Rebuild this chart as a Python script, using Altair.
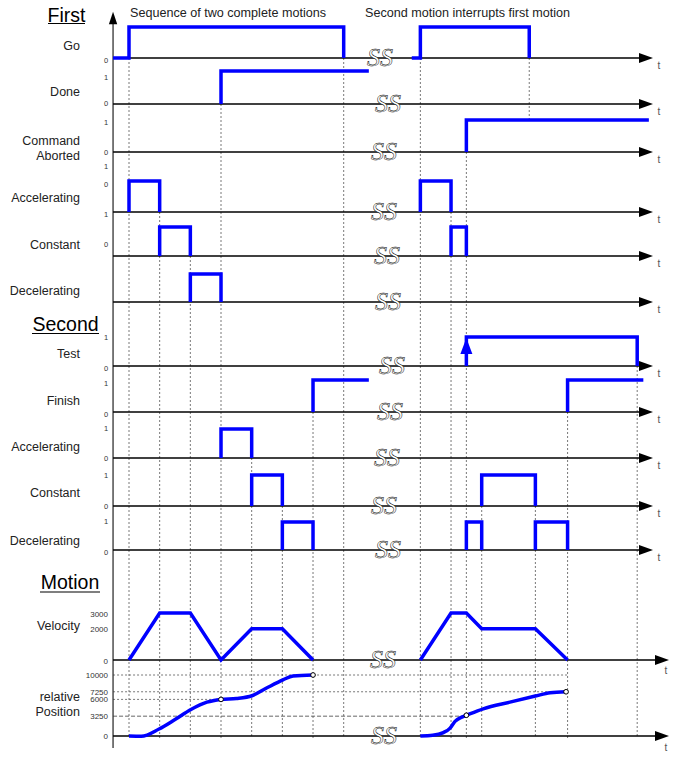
import altair as alt
import pandas as pd

# ------------------------------------------------------------------ data
# Event times in ms.  Each step signal: (start, [toggle times], end), starting at level 0
GO = [(-52, [0, 700], 700), (922, [950, 1305], 1305)]
DONE = [(300, [300], 782)]
ABORTED = [(1100, [1100], 1695)]
ACC_1 = [(0, [0, 100], 100), (950, [950, 1050], 1050)]
CON_1 = [(100, [100, 200], 200), (1050, [1050, 1100], 1100)]
DEC_1 = [(200, [200, 300], 300)]
TEST = [(1100, [1100, 1657], 1657)]
FINISH = [(600, [600], 782), (1430, [1430], 1677)]
ACC_2 = [(300, [300, 400], 400)]
CON_2 = [(400, [400, 500], 500), (1150, [1150, 1325], 1325)]
DEC_2 = [(500, [500, 600], 600), (1100, [1100, 1150], 1150), (1325, [1325, 1430], 1430)]

vel_t1 = [0, 100, 200, 300, 400, 500, 600]
vel_v1 = [0, 3000, 3000, 0, 2000, 2000, 0]
vel_t2 = [950, 1050, 1100, 1150, 1325, 1430]
vel_v2 = [0, 3000, 3000, 2000, 2000, 0]

pos_t1 = [0, 40, 98, 150, 202, 254, 300, 350, 401, 450, 502, 535, 600]
pos_v1 = [0, -40, 1150, 2700, 4350, 5550, 6000, 6150, 6600, 7900, 9200, 9850, 10000]
pos_t2 = [950, 990, 1025, 1047, 1063, 1085, 1100, 1155, 1242, 1325, 1373, 1425]
pos_v2 = [0, 110, 560, 1300, 2400, 3100, 3400, 4450, 5550, 6550, 7100, 7250]
pos_marks_t = [300, 600, 1100, 1425]
pos_marks_v = [6000, 10000, 3400, 7250]

pos_ref_levels = [10000, 7250, 6000, 3250]
pos_ref_ends = [1430, 1430, 300, 1100]
vel_tick_labels = ["3000", "2000", "0"]
vel_tick_values = [3000, 2000, 0]
pos_tick_labels = ["10000", "7250", "6000", "3250", "0"]
pos_tick_values = [10000, 7250, 6000, 3250, 0]

# dotted guide lines: (time, row where it starts)
guide_times = [0, 100, 200, 300, 400, 500, 600, 700, 950, 1050, 1100, 1150, 1325, 1430, 1657]
guide_rows = ["go", "acc1", "con1", "done", "acc2", "con2", "finish", "go",
              "go", "acc1", "aborted", "con2", "con2", "finish", "test"]

row_names = ["Go", "Done", "Command", "Aborted", "Accelerating", "Constant", "Decelerating",
             "Test", "Finish", "Accelerating", "Constant", "Decelerating",
             "Velocity", "relative", "Position"]
level_labels = ["0", "1", "0", "1", "0", "1", "0", "1", "0",
                "1", "0", "1", "0", "1", "0", "1", "0", "1", "0"]
section_titles = ["First", "Second", "Motion"]
captions = ["Sequence of two complete motions", "Second motion interrupts first motion"]

# ------------------------------------------------------------------ layout
W, H = 678, 757
X0_PX, PX_PER_MS = 129.0, 0.3067
AXIS_T0 = -52
ROWS = {  # baseline px, level-1 px
    "go": (58, 27), "done": (104, 71), "aborted": (152, 120), "acc1": (212, 181),
    "con1": (256, 227), "dec1": (302, 274), "test": (366, 337), "finish": (412, 380),
    "acc2": (458, 429), "con2": (506, 475), "dec2": (550, 522),
}
VEL_BASE, VEL_K = 660, 47 / 3000
POS_BASE, POS_K = 736, 61 / 10000
SIG_ORDER = ["go", "done", "aborted", "acc1", "con1", "dec1", "test", "finish", "acc2", "con2", "dec2"]
SS_PX = [380, 388, 384, 384, 387, 388, 392, 390, 387, 384, 388, 383, 384]
ROW_LABEL_Y = [46, 92, 141, 156, 198, 245, 291, 354, 401, 447, 493, 541, 626, 697, 712]
LEVEL_LABEL_Y = [61, 78, 104, 123, 153, 167, 185, 215, 245, 338, 369, 384, 415, 429, 459, 476, 507, 522, 553]
BLUE = "#0000FF"
FONT = "Liberation Sans"


def ms(px):
    return (px - X0_PX) / PX_PER_MS


def ylev(row, lev):
    b, h = ROWS[row]
    return b - lev * (b - h)


xs = alt.Scale(domain=[ms(0), ms(W)], nice=False, zero=False)
ys = alt.Scale(domain=[0, H], nice=False, zero=False, reverse=True)


def X(f="t"):
    return alt.X(f"{f}:Q", scale=xs, axis=None)


def Y(f="y"):
    return alt.Y(f"{f}:Q", scale=ys, axis=None)


# ---- step signals
sig_rows = [("go", GO), ("done", DONE), ("aborted", ABORTED), ("acc1", ACC_1), ("con1", CON_1),
            ("dec1", DEC_1), ("test", TEST), ("finish", FINISH), ("acc2", ACC_2), ("con2", CON_2),
            ("dec2", DEC_2)]
recs = []
for row, segs in sig_rows:
    for k, (start, edges, end) in enumerate(segs):
        seg = f"{row}{k}"
        lev = 0
        pts = [(start, lev)]
        for e in edges:
            pts.append((e, lev))
            lev = 1 - lev
            pts.append((e, lev))
        pts.append((end, lev))
        for i, (t, l) in enumerate(pts):
            recs.append({"seg": seg, "i": i, "t": t, "y": ylev(row, l)})
sig_df = pd.DataFrame(recs)

# motion curves
mrecs = []
for i, (t, v) in enumerate(zip(vel_t1, vel_v1)):
    mrecs.append({"seg": "v1", "i": i, "t": t, "y": VEL_BASE - v * VEL_K})
for i, (t, v) in enumerate(zip(vel_t2, vel_v2)):
    mrecs.append({"seg": "v2", "i": i, "t": t, "y": VEL_BASE - v * VEL_K})
vel_df = pd.DataFrame(mrecs)
prec = []
for i, (t, v) in enumerate(zip(pos_t1, pos_v1)):
    prec.append({"seg": "p1", "i": i, "t": t, "y": POS_BASE - v * POS_K})
for i, (t, v) in enumerate(zip(pos_t2, pos_v2)):
    prec.append({"seg": "p2", "i": i, "t": t, "y": POS_BASE - v * POS_K})
pos_df = pd.DataFrame(prec)
marks_df = pd.DataFrame({"t": pos_marks_t, "y": [POS_BASE - v * POS_K for v in pos_marks_v]})

# baselines
ARROW_SIG_PX, ARROW_MOT_PX = 646, 662
base_recs = [{"t": AXIS_T0, "t2": ms(ARROW_SIG_PX - 6), "y": ROWS[r][0]} for r in SIG_ORDER]
base_recs += [{"t": AXIS_T0, "t2": ms(ARROW_MOT_PX - 6), "y": VEL_BASE},
              {"t": AXIS_T0, "t2": ms(ARROW_MOT_PX - 6), "y": POS_BASE}]
base_df = pd.DataFrame(base_recs)
arrow_df = pd.DataFrame([{"t": ms(ARROW_SIG_PX), "y": ROWS[r][0]} for r in SIG_ORDER] +
                        [{"t": ms(ARROW_MOT_PX), "y": VEL_BASE}, {"t": ms(ARROW_MOT_PX), "y": POS_BASE}])
tlab_df = pd.DataFrame([{"t": ms(ARROW_SIG_PX + 13), "y": ROWS[r][0] + 8, "s": "t"} for r in SIG_ORDER] +
                       [{"t": ms(ARROW_MOT_PX + 4), "y": VEL_BASE + 11, "s": "t"},
                        {"t": ms(ARROW_MOT_PX + 4), "y": POS_BASE + 12, "s": "t"}])

# guides
guide_df = pd.DataFrame({"t": guide_times, "y": [ROWS[r][0] for r in guide_rows],
                         "y2": [738] * len(guide_times)})
abort_guide_df = pd.DataFrame({"t": [1305], "y": [ROWS["go"][0]], "y2": [ROWS["aborted"][1]]})
ref_df = pd.DataFrame({"t": [AXIS_T0] * 4, "t2": pos_ref_ends,
                       "y": [POS_BASE - v * POS_K for v in pos_ref_levels],
                       "lvl": pos_ref_levels})

# break symbols
ss_y = [ROWS[r][0] for r in SIG_ORDER] + [VEL_BASE, POS_BASE]
ss_df = pd.DataFrame({"t": [ms(p) for p in SS_PX], "y": ss_y, "s": ["SS"] * len(ss_y)})

# labels
rowlab_df = pd.DataFrame({"s": row_names, "y": ROW_LABEL_Y})
lvl_df = pd.DataFrame({"s": level_labels, "y": LEVEL_LABEL_Y})
vt_df = pd.DataFrame({"s": vel_tick_labels, "y": [VEL_BASE - v * VEL_K + 1.5 for v in vel_tick_values]})
pt_df = pd.DataFrame({"s": pos_tick_labels, "y": [POS_BASE - v * POS_K + 1 for v in pos_tick_values]})
title_df = pd.DataFrame({"s": section_titles, "x": [66.5, 65.5, 70], "y": [15.5, 324.5, 582.5],
                         "ux": [48, 32, 40], "ux2": [85, 99, 100], "uy": [23.5, 333.5, 592]})
cap_df = pd.DataFrame({"s": captions, "x": [130, 365], "y": [13, 13]})

# ------------------------------------------------------------------ layers
layers = []
GUIDE = dict(color="#555555", strokeWidth=0.8, strokeDash=[2, 2])

layers.append(alt.Chart(guide_df).mark_rule(**GUIDE).encode(x=X(), y=Y("y"), y2="y2"))
layers.append(alt.Chart(abort_guide_df).mark_rule(**GUIDE).encode(x=X(), y=Y("y"), y2="y2"))
layers.append(alt.Chart(ref_df[ref_df.lvl != 3250]).mark_rule(**GUIDE).encode(x=X(), x2="t2", y=Y("y")))
layers.append(alt.Chart(ref_df[ref_df.lvl == 3250]).mark_rule(color="#555555", strokeWidth=0.9,
                                                             strokeDash=[4, 2]).encode(
    x=X(), x2="t2", y=Y("y")))

# left axis
layers.append(alt.Chart(pd.DataFrame({"t": [AXIS_T0], "y": [20], "y2": [748]})).mark_rule(
    color="#333333", strokeWidth=1.3).encode(x=X(), y=Y("y"), y2="y2"))
layers.append(alt.Chart(pd.DataFrame({"t": [AXIS_T0], "y": [18]})).mark_point(
    shape="M0,-1L0.66,1L-0.66,1Z", filled=True, color="black", opacity=1, size=160).encode(x=X(), y=Y()))

# baselines and arrows
layers.append(alt.Chart(base_df).mark_rule(color="black", strokeWidth=1.3).encode(x=X(), x2="t2", y=Y()))
layers.append(alt.Chart(arrow_df).mark_point(shape="M1,0L-1,-0.7L-1,0.7Z", filled=True, color="black",
                                             opacity=1, size=196).encode(x=X(), y=Y()))
layers.append(alt.Chart(tlab_df).mark_text(font=FONT, fontSize=10, color="#555555", align="center",
                                           baseline="middle").encode(x=X(), y=Y(), text="s:N"))

# break symbols
layers.append(alt.Chart(ss_df).mark_text(font="Liberation Serif", fontStyle="italic", fontSize=26,
                                         fill="white", stroke="black", strokeWidth=0.5,
                                         align="center", baseline="middle").encode(x=X(), y=Y(), text="s:N"))

# signals
layers.append(alt.Chart(sig_df).mark_line(color=BLUE, strokeWidth=3.5, strokeJoin="miter").encode(
    x=X(), y=Y(), detail="seg:N", order="i:Q"))
layers.append(alt.Chart(pd.DataFrame({"t": [1100], "y": [346]})).mark_point(
    shape="M0,-1L0.75,1L-0.75,1Z", filled=True, color=BLUE, opacity=1, size=256).encode(x=X(), y=Y()))
layers.append(alt.Chart(vel_df).mark_line(color=BLUE, strokeWidth=3.5, strokeJoin="miter").encode(
    x=X(), y=Y(), detail="seg:N", order="i:Q"))
layers.append(alt.Chart(pos_df).mark_line(color=BLUE, strokeWidth=3.5, interpolate="monotone").encode(
    x=X(), y=Y(), detail="seg:N", order="i:Q"))
layers.append(alt.Chart(marks_df).mark_point(shape="circle", filled=True, fill="white", stroke="black",
                                             strokeWidth=1, opacity=1, size=22).encode(x=X(), y=Y()))

# labels
layers.append(alt.Chart(rowlab_df).mark_text(font=FONT, fontSize=12.5, color="#222222", align="right",
                                             baseline="middle").encode(x=alt.value(80), y=Y(), text="s:N"))
layers.append(alt.Chart(lvl_df).mark_text(font=FONT, fontSize=7.5, color="#333333", align="center",
                                          baseline="middle").encode(x=alt.value(106), y=Y(), text="s:N"))
layers.append(alt.Chart(vt_df).mark_text(font=FONT, fontSize=8, color="#333333", align="right",
                                         baseline="middle").encode(x=alt.value(108), y=Y(), text="s:N"))
layers.append(alt.Chart(pt_df).mark_text(font=FONT, fontSize=8, color="#333333", align="right",
                                         baseline="middle").encode(x=alt.value(108), y=Y(), text="s:N"))
PX = alt.Scale(domain=[0, W], nice=False, zero=False)
layers.append(alt.Chart(title_df).mark_text(font=FONT, fontSize=19.5, color="black", align="center",
                                            baseline="middle").encode(
    x=alt.X("x:Q", scale=PX, axis=None), y=Y(), text="s:N"))
layers.append(alt.Chart(title_df).mark_rule(color="black", strokeWidth=1.2).encode(
    x=alt.X("ux:Q", scale=PX, axis=None), x2="ux2", y=Y("uy")))
layers.append(alt.Chart(cap_df).mark_text(font=FONT, fontSize=12.6, color="#222222", align="left",
                                          baseline="middle").encode(
    x=alt.X("x:Q", scale=PX, axis=None), y=Y(), text="s:N"))

chart = alt.layer(*layers).resolve_scale(x="independent").properties(
    width=W, height=H, padding=0, autosize=alt.AutoSizeParams(type="none"), background="white"
).configure_view(stroke=None)

chart.save("out.html", embed_options={"renderer": "svg", "actions": False})
